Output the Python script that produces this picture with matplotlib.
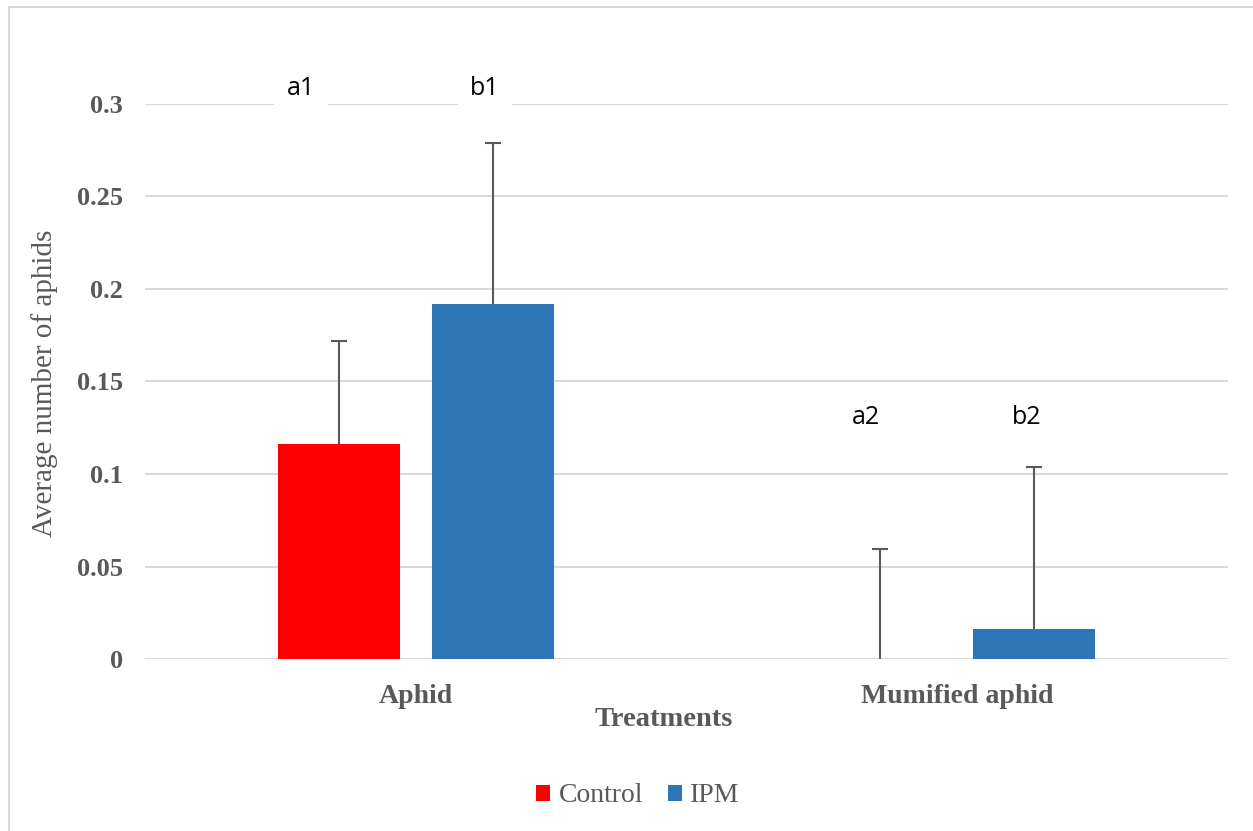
import matplotlib
matplotlib.use('Agg')

import matplotlib.pyplot as plt
from matplotlib.lines import Line2D
import numpy as np

categories = ['Aphid', 'Mumified aphid']
control_mean = [0.116, 0.0]
control_err = [0.056, 0.0595]
ipm_mean = [0.192, 0.016]
ipm_err = [0.087, 0.088]
letters_control = ['a1', 'a2']
letters_ipm = ['b1', 'b2']
letter_y = [0.3086, 0.1308]

GRAY = '#595959'
RED = '#FF0000'
BLUE = '#2E75B6'

fig = plt.figure(figsize=(12.53, 8.31), dpi=100)
ax = fig.add_axes([145/1253, 1-659/831, (1228-145)/1253, (659-104)/831])

x = np.arange(len(categories))
w = 0.225
off = 0.142

ax.bar(x - off, control_mean, w, color=RED, label='Control', zorder=3)
ax.bar(x + off, ipm_mean, w, color=BLUE, label='IPM', zorder=3)

# upper-only error bars with a cap on top
for xs, m, e in [(x - off, control_mean, control_err), (x + off, ipm_mean, ipm_err)]:
    top = np.array(m) + np.array(e)
    ax.vlines(xs, m, top, color=GRAY, lw=1.5, zorder=4)
    ax.plot(xs, top, ls='none', marker='_', ms=12, mew=1.5, color=GRAY, zorder=4, clip_on=False)

# significance letters
txt_font = dict(family='Open Sans', fontsize=18, color='black', ha='center', va='center', zorder=5)
box = dict(facecolor='white', edgecolor='none', pad=9)
ctrl_shift = [-0.07, -0.027]
ipm_shift = [-0.014, -0.013]
for i in range(len(categories)):
    ax.text(x[i] - off + ctrl_shift[i], letter_y[i], letters_control[i], bbox=box, clip_on=False, **txt_font)
    ax.text(x[i] + off + ipm_shift[i], letter_y[i], letters_ipm[i], bbox=box, clip_on=False, **txt_font)

ax.set_xlim(-0.5, 1.5)
ax.set_ylim(0, 0.3)
ax.set_yticks(np.arange(0, 0.301, 0.05))
ax.set_yticklabels(['0', '0.05', '0.1', '0.15', '0.2', '0.25', '0.3'])
ax.set_xticks(x)
ax.set_xticklabels(categories)
for s in ax.spines.values():
    s.set_visible(False)
ax.yaxis.grid(True, color='#d9d9d9', linewidth=1.5, zorder=0)
ax.set_axisbelow(True)
ax.tick_params(axis='both', length=0, labelcolor=GRAY)
ax.tick_params(axis='y', pad=16, labelsize=19)
ax.tick_params(axis='x', pad=18, labelsize=20)
for lab in ax.get_xticklabels() + ax.get_yticklabels():
    lab.set_fontfamily('Liberation Serif')
    lab.set_fontweight('bold')

fig.text(45/1253, 1-383/831, 'Average number of aphids', rotation=90, ha='center', va='center',
         family='Liberation Serif', fontsize=21, color=GRAY)
fig.text(664/1253, 1-720/831, 'Treatments', ha='center', va='center',
         family='Liberation Serif', fontsize=20.5, fontweight='bold', color=GRAY)

leg = fig.legend(loc='center', bbox_to_anchor=(638/1253, 1-796/831), ncol=2, frameon=False,
                 prop=dict(family='Liberation Serif', size=20), handlelength=0.5, handleheight=0.5,
                 handletextpad=0.3, columnspacing=0.9)
for t in leg.get_texts():
    t.set_color(GRAY)

# outer chart border (left and top edges visible)
fig.add_artist(Line2D([8.5/1253, 8.5/1253], [0, 1-7/831], transform=fig.transFigure, color='#d9d9d9', lw=1.5))
fig.add_artist(Line2D([8.5/1253, 1], [1-7/831, 1-7/831], transform=fig.transFigure, color='#d9d9d9', lw=1.5))

fig.savefig('out.png', dpi=100)
